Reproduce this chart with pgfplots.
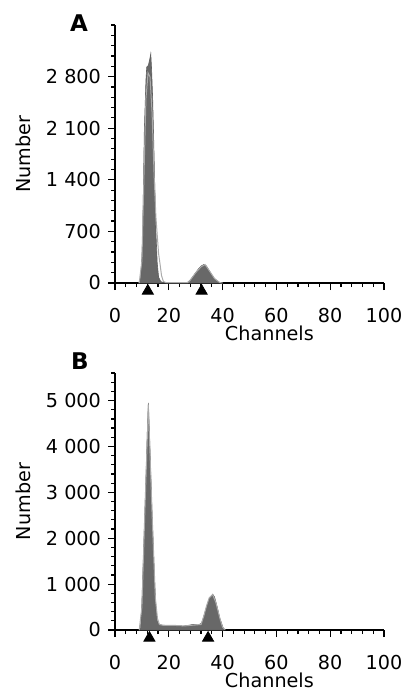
\documentclass[border=0pt]{standalone}
\usepackage{fontspec}
\setmainfont{DejaVu Sans}
\usepackage{pgfplots}
\pgfplotsset{compat=1.18}

\definecolor{histfill}{RGB}{104,104,104}
\definecolor{histedge}{RGB}{96,96,96}
\definecolor{fitline}{RGB}{170,170,170}

\pgfplotsset{
  flowax/.style={
    scale only axis, width=134.5pt, height=129pt,
    axis lines=left, axis line style={-, line width=0.75pt},
    xmin=0, xmax=100, ymin=0,
    xtick={0,20,...,100}, minor x tick num=4,
    tick align=outside, major tick length=3.5pt, minor tick length=2pt,
    every tick/.style={black, line width=0.6pt},
    xlabel=Channels, ylabel=Number,
    xlabel style={at={(axis description cs:0.574,-0.195)}, anchor=center},
    ylabel style={at={(axis description cs:-0.342,0.5)}, anchor=center, rotate=0},
    tick label style={font=\fontsize{9.6}{11}\selectfont},
    xticklabel style={yshift=-5.5pt},
    label style={font=\fontsize{9.6}{11}\selectfont},
    /pgf/number format/assume math mode=true,
    /pgf/number format/1000 sep={\ },
    clip=false,
  },
  hist/.style={fill=histfill, draw=histedge, line width=0.3pt},
  fit/.style={draw=fitline, line width=0.5pt},
  peakmark/.style={only marks, mark=triangle*, mark size=3.2pt, black},
}

\begin{document}
\begin{tikzpicture}
\useasboundingbox (0,0) rectangle (203pt,-348pt);

% panel A
\begin{axis}[flowax, at={(57.5pt,-141.5pt)}, anchor=south west,
  ymax=3500, ytick={0,700,...,2800}, minor ytick={140,280,...,3500}]
\addplot[hist] coordinates {
  (8.8,0)(9.5,60)(10,350)(10.3,700)(10.9,2070)(11.5,2750)(11.8,2930)
  (12.4,2950)(13.0,3050)(13.3,3110)(13.6,2900)(14.0,2500)(14.3,2070)
  (14.8,1300)(15.2,700)(15.7,270)(16.2,80)(17,20)(18,5)(20,3)(25,3)
  (27,10)(28,40)(29,90)(30,140)(31,190)(32,230)(33,250)(34,230)(35,170)
  (36,110)(37,60)(38,25)(39,5)(40,0)} \closedcycle;
\addplot[fit] coordinates {
  (9,0)(10,300)(10.8,1500)(11.5,2500)(12.3,2850)(13,2800)(13.8,2300)
  (14.5,1500)(15.2,900)(15.6,700)(16.2,400)(16.7,270)(17.3,100)(18,20)
  (19,5)(27,5)(28,40)(30,140)(32,220)(33.5,250)(35,170)(37,60)(39,5)(40,0)};
\addplot[peakmark] coordinates {(12.2,-108)(32.2,-108)};
\end{axis}
\node[font=\bfseries\fontsize{11.5}{13}\selectfont] at (39.5pt,-11.5pt) {A};

% panel B
\begin{axis}[flowax, at={(57.5pt,-315pt)}, anchor=south west, height=128.5pt,
  ymax=5600, ytick={0,1000,...,5000}, minor ytick={200,400,...,5600}]
\addplot[hist] coordinates {
  (9,0)(9.5,30)(10,600)(10.5,1500)(11,2400)(11.5,3300)(12,4300)(12.4,4950)
  (12.8,4300)(13.3,3400)(13.8,2500)(14.2,1900)(14.7,1100)(15.2,500)
  (15.7,200)(16.2,130)(17,110)(19,100)(21,100)(23,90)(25,80)(27,100)
  (29,120)(31,110)(32.2,150)(33,300)(34,500)(35,680)(36.3,780)(37,720)
  (38,500)(39,250)(40,80)(40.5,0)} \closedcycle;
\addplot[fit] coordinates {
  (9,0)(10,500)(11,2400)(12.4,4900)(13.8,2500)(15,700)(15.8,250)(16.5,120)
  (18,100)(22,100)(26,90)(30,110)(32,120)(33,300)(34,520)(35,700)(36.3,770)
  (37.5,600)(39,250)(40,60)(41,0)};
\addplot[peakmark] coordinates {(12.8,-174)(34.6,-174)};
\end{axis}
\node[font=\bfseries\fontsize{11.5}{13}\selectfont] at (40pt,-180.5pt) {B};
\end{tikzpicture}
\end{document}
